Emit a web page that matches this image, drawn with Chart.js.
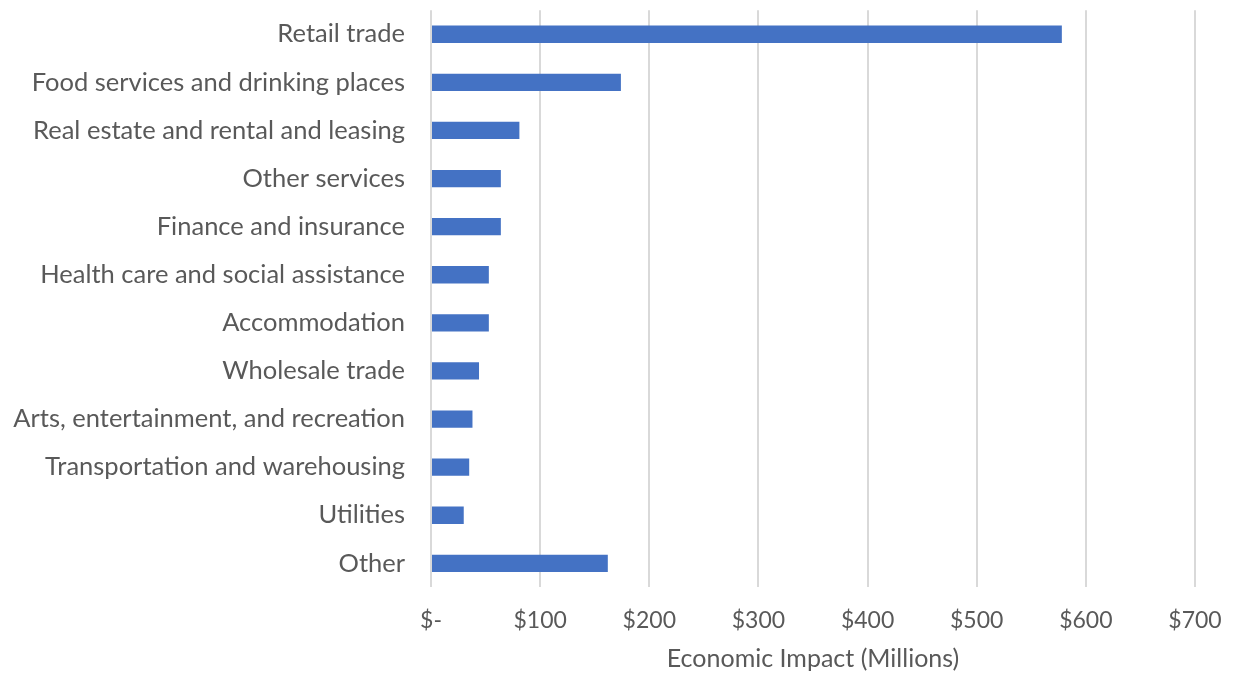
<!DOCTYPE html>
<html>
<head>
<meta charset="utf-8">
<script src="https://cdn.jsdelivr.net/npm/chart.js@4"></script>
<style>
  html, body { margin: 0; padding: 0; background: #fff; }
  canvas { display: block; }
</style>
</head>
<body>
<canvas id="chart" width="1233" height="674"></canvas>
<script>
let industries = [
    "Retail trade",
    "Food services and drinking places",
    "Real estate and rental and leasing",
    "Other services",
    "Finance and insurance",
    "Health care and social assistance",
    "Accommodation",
    "Wholesale trade",
    "Arts, entertainment, and recreation",
    "Transportation and warehousing",
    "Utilities",
    "Other"
];
let impact = [578, 174, 81, 64, 64, 53, 53, 44, 38, 35, 30, 162];
let axisMin = 0;
let axisMax = 700;
let axisStep = 100;
let axisTitle = "Economic Impact (Millions)";

const textColor = "#595959";
const fontFamily = "Lato, 'Open Sans', sans-serif";

function moneyLabel(value) {
    if (value == 0) {
        return "$-";
    }
    return "$" + value;
}

function createBarChart() {
    let ctx = document.getElementById("chart");

    new Chart(ctx, {
        type: "bar",
        data: {
            labels: industries,
            datasets: [{
                data: impact,
                backgroundColor: "#4472C4",
                borderWidth: 0,
                barPercentage: 0.36,
                categoryPercentage: 1
            }]
        },
        options: {
            indexAxis: "y",
            responsive: false,
            animation: false,
            layout: {
                padding: { top: 10, right: 38, bottom: 0, left: 0 }
            },
            plugins: {
                legend: { display: false },
                tooltip: { enabled: false }
            },
            scales: {
                x: {
                    min: axisMin,
                    max: axisMax,
                    ticks: {
                        stepSize: axisStep,
                        color: textColor,
                        font: { family: fontFamily, size: 23 },
                        padding: 0,
                        callback: moneyLabel
                    },
                    grid: {
                        color: "#D9D9D9",
                        lineWidth: 2,
                        drawTicks: true,
                        tickLength: 19,
                        tickColor: "rgba(0,0,0,0)"
                    },
                    border: { display: false },
                    title: {
                        display: true,
                        text: axisTitle,
                        color: textColor,
                        font: { family: fontFamily, size: 25 },
                        padding: { top: 10, bottom: 0 }
                    }
                },
                y: {
                    ticks: {
                        color: textColor,
                        font: { family: fontFamily, size: 25.5, lineHeight: 0.8 },
                        padding: 0
                    },
                    grid: {
                        display: true,
                        drawOnChartArea: false,
                        drawTicks: true,
                        tickLength: 26,
                        tickColor: "rgba(0,0,0,0)"
                    },
                    border: { display: false },
                    afterFit: function(scale) {
                        scale.width = 431;
                    }
                }
            }
        }
    });
}

createBarChart();
</script>
</body>
</html>
